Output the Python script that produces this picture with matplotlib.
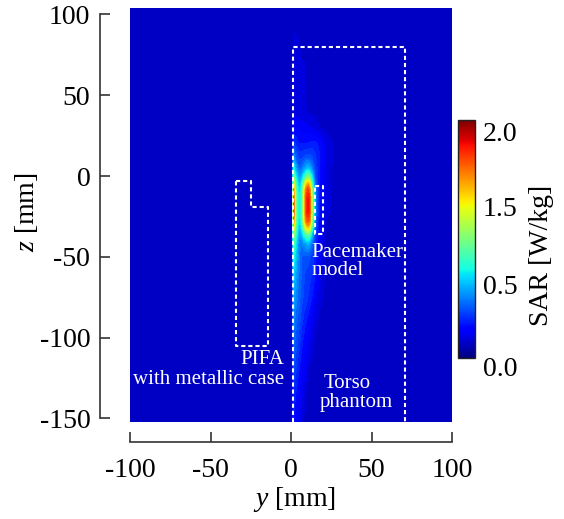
import numpy as np
import matplotlib.pyplot as plt
from matplotlib.colors import Normalize
from matplotlib.cm import ScalarMappable

plt.rcParams['font.family'] = ['Liberation Serif', 'DejaVu Serif']
plt.rcParams['mathtext.fontset'] = 'custom'
plt.rcParams['mathtext.it'] = 'Liberation Serif:italic'
plt.rcParams['mathtext.rm'] = 'Liberation Serif'
plt.rcParams['axes.unicode_minus'] = False

# SAR samples [W/kg]
b = 0.14  # background level
y_grid = [-100, 0.8, 1.5, 3, 5, 6.5, 8, 9.5, 10.5, 11.5, 13, 15, 18, 22, 27, 100]
z_grid = [104, 40, 30, 20, 12, 5, 0, -4, -8, -13, -18, -23, -28, -32, -36,
          -42, -50, -60, -75, -90, -105, -120, -135, -152]
sar = [
    [b, b, b,    b,    b,    b,    b,    b,    b,    b,    b,    b,    b,    b,    b, b],
    [b, b, 0.18, 0.18, 0.17, 0.16, 0.16, 0.15, b,    b,    b,    b,    b,    b,    b, b],
    [b, b, 0.26, 0.25, 0.24, 0.23, 0.22, 0.22, 0.21, 0.20, 0.19, 0.17, 0.15, b,    b, b],
    [b, b, 0.38, 0.34, 0.30, 0.30, 0.30, 0.30, 0.30, 0.31, 0.32, 0.32, 0.28, 0.18, b, b],
    [b, b, 0.55, 0.45, 0.38, 0.38, 0.40, 0.42, 0.42, 0.42, 0.40, 0.36, 0.30, 0.18, b, b],
    [b, b, 0.80, 0.60, 0.45, 0.48, 0.55, 0.62, 0.65, 0.62, 0.52, 0.40, 0.28, 0.17, b, b],
    [b, b, 1.05, 0.75, 0.55, 0.60, 0.78, 0.95, 1.00, 0.95, 0.72, 0.42, 0.27, 0.16, b, b],
    [b, b, 1.30, 0.90, 0.62, 0.72, 1.05, 1.35, 1.45, 1.35, 0.90, 0.45, 0.27, 0.16, b, b],
    [b, b, 1.60, 1.00, 0.68, 0.82, 1.25, 1.65, 1.75, 1.65, 1.10, 0.50, 0.27, 0.16, b, b],
    [b, b, 1.75, 1.05, 0.72, 0.85, 1.32, 1.78, 1.85, 1.78, 1.18, 0.52, 0.27, 0.16, b, b],
    [b, b, 1.80, 1.05, 0.72, 0.85, 1.32, 1.80, 1.87, 1.80, 1.20, 0.52, 0.27, 0.16, b, b],
    [b, b, 1.78, 1.05, 0.72, 0.85, 1.32, 1.78, 1.85, 1.78, 1.18, 0.50, 0.26, 0.16, b, b],
    [b, b, 1.65, 1.00, 0.68, 0.82, 1.25, 1.65, 1.72, 1.65, 1.10, 0.47, 0.25, b,    b, b],
    [b, b, 1.40, 0.95, 0.62, 0.74, 1.05, 1.35, 1.45, 1.35, 0.90, 0.42, 0.24, b,    b, b],
    [b, b, 1.15, 0.85, 0.58, 0.62, 0.80, 0.95, 1.00, 0.95, 0.66, 0.38, 0.23, b,    b, b],
    [b, b, 0.95, 0.75, 0.52, 0.50, 0.55, 0.60, 0.62, 0.58, 0.48, 0.34, 0.22, b,    b, b],
    [b, b, 0.82, 0.68, 0.50, 0.45, 0.43, 0.43, 0.43, 0.41, 0.38, 0.32, 0.21, b,    b, b],
    [b, b, 0.70, 0.60, 0.50, 0.45, 0.41, 0.39, 0.38, 0.37, 0.35, 0.30, 0.19, b,    b, b],
    [b, b, 0.60, 0.53, 0.47, 0.42, 0.39, 0.37, 0.35, 0.33, 0.30, 0.23, 0.16, b,    b, b],
    [b, b, 0.53, 0.47, 0.42, 0.37, 0.33, 0.30, 0.28, 0.26, 0.21, 0.16, b,    b,    b, b],
    [b, b, 0.47, 0.42, 0.36, 0.31, 0.27, 0.24, 0.21, 0.19, 0.16, b,    b,    b,    b, b],
    [b, b, 0.41, 0.36, 0.30, 0.25, 0.22, 0.19, 0.16, b,    b,    b,    b,    b,    b, b],
    [b, b, 0.34, 0.30, 0.25, 0.21, 0.18, b,    b,    b,    b,    b,    b,    b,    b, b],
    [b, b, 0.29, 0.25, 0.21, 0.18, b,    b,    b,    b,    b,    b,    b,    b,    b, b],
]
sar_max = 2.1

# outlines [mm]
torso_y = [1, 1, 71, 71]
torso_z = [-152, 80, 80, -152]
pifa_y = [-34, -25, -25, -14, -14, -34, -34]
pifa_z = [-3, -3, -19, -19, -105, -105, -3]
pace_y = [15, 20, 20, 15, 15]
pace_z = [-6, -6, -36, -36, -6]

cbar_labels = ['0.0', '0.5', '1.5', '2.0']

W, H = 564, 519
fig = plt.figure(figsize=(W / 100, H / 100), dpi=100)


def px(x, y):
    return x / W, 1 - y / H


ax = fig.add_axes([130 / W, 1 - 421.7 / H, 322 / W, 413.7 / H])
Y, Z = np.meshgrid(y_grid, z_grid)
levels = np.linspace(0, sar_max, 43)
ax.contourf(Y, Z, np.array(sar), levels=levels, cmap='jet', vmin=0, vmax=sar_max)
ax.set_xlim(-100, 100)
ax.set_ylim(-152, 104)

dash = (0, (2, 1.4))
ax.plot(torso_y, torso_z, color='white', lw=1.5, ls=dash)
ax.plot(pifa_y, pifa_z, color='white', lw=1.5, ls=dash)
ax.plot(pace_y, pace_z, color='white', lw=1.5, ls=dash)

tk = dict(color='white', fontsize=15)
ax.text(-4, -113.5, 'PIFA', ha='right', va='center', **tk)
ax.text(-4, -126, 'with metallic case', ha='right', va='center', **tk)
ax.text(12.6, -47, 'Pacemaker', ha='left', va='center', **tk)
ax.text(12.6, -58.5, 'model', ha='left', va='center', **tk)
ax.text(20.5, -128.5, 'Torso', ha='left', va='center', **tk)
ax.text(18, -140, 'phantom', ha='left', va='center', **tk)

for s in ['top', 'right']:
    ax.spines[s].set_visible(False)
ax.spines['left'].set_position(('outward', 21.6))
ax.spines['bottom'].set_position(('outward', 14.4))
ax.spines['left'].set_bounds(-150, 100)
ax.spines['bottom'].set_bounds(-100, 100)
for s in ['left', 'bottom']:
    ax.spines[s].set_color('#333333')
    ax.spines[s].set_linewidth(1.2)
ax.set_xticks([-100, -50, 0, 50, 100])
ax.set_yticks([-150, -100, -50, 0, 50, 100])
ax.tick_params(direction='in', length=7, width=1.2, color='#333333', labelsize=20)
ax.tick_params(axis='x', pad=12)
ax.tick_params(axis='y', pad=7)

fig.text(*px(295, 500), '$y$ [mm]', ha='center', va='center', fontsize=20)
fig.text(*px(27, 212), '$z$ [mm]', ha='center', va='center', fontsize=20, rotation=90)

# colour bar
cax = fig.add_axes([458 / W, 1 - 358 / H, 17 / W, 238 / H])
sm = ScalarMappable(norm=Normalize(0, sar_max), cmap='jet')
cb = fig.colorbar(sm, cax=cax)
cb.set_ticks([])
cb.outline.set_linewidth(1.0)
cb.outline.set_edgecolor('#222222')
for lab, ypx in zip(cbar_labels, [369.5, 288, 209.5, 134.5]):
    fig.text(*px(483, ypx), lab, ha='left', va='center', fontsize=20)
fig.text(*px(542, 255), 'SAR [W/kg]', ha='center', va='center', fontsize=20, rotation=90)

fig.savefig('out.png', dpi=100)
